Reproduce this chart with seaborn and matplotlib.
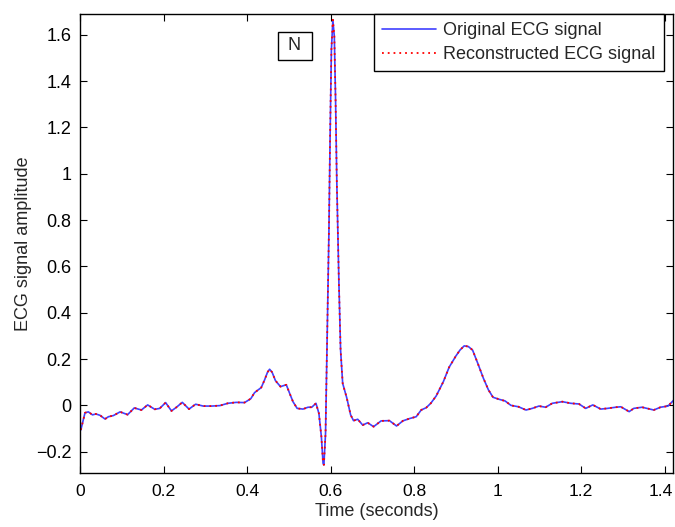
import matplotlib
matplotlib.use("Agg")
import matplotlib.pyplot as plt
import matplotlib.transforms as mtransforms
import seaborn as sns
import pandas as pd

time_s = [0.002, 0.012, 0.020, 0.030, 0.038, 0.048, 0.060, 0.068, 0.080, 0.096,
          0.114, 0.130, 0.147, 0.162, 0.179, 0.191, 0.205, 0.219, 0.231, 0.245,
          0.261, 0.277, 0.295, 0.315, 0.335, 0.354, 0.374, 0.394, 0.409, 0.418,
          0.434, 0.442, 0.449, 0.454, 0.460, 0.468, 0.480, 0.494, 0.502, 0.510,
          0.520, 0.534, 0.546, 0.555, 0.565, 0.572, 0.578, 0.582, 0.584, 0.588,
          0.592, 0.596, 0.599, 0.602, 0.6055, 0.609, 0.612, 0.615, 0.620, 0.624,
          0.629, 0.639, 0.648, 0.655, 0.665, 0.677, 0.689, 0.703, 0.721, 0.741,
          0.758, 0.773, 0.789, 0.805, 0.817, 0.829, 0.840, 0.853, 0.870, 0.884,
          0.900, 0.910, 0.920, 0.930, 0.940, 0.952, 0.966, 0.978, 0.989, 1.004,
          1.018, 1.032, 1.050, 1.068, 1.083, 1.099, 1.115, 1.131, 1.155, 1.175,
          1.195, 1.211, 1.228, 1.247, 1.263, 1.283, 1.295, 1.315, 1.326, 1.346,
          1.374, 1.390, 1.408, 1.422]
original = [-0.106, -0.032, -0.028, -0.041, -0.037, -0.043, -0.059, -0.049, -0.044, -0.028,
            -0.040, -0.011, -0.020, 0.002, -0.017, -0.013, 0.012, -0.024, -0.008, 0.013,
            -0.016, 0.005, -0.003, -0.003, -0.001, 0.009, 0.013, 0.012, 0.029, 0.055,
            0.077, 0.110, 0.143, 0.156, 0.143, 0.107, 0.081, 0.089, 0.052, 0.016,
            -0.013, -0.016, -0.008, -0.008, 0.009, -0.034, -0.135, -0.250, -0.257, -0.120,
            0.311, 0.743, 1.175, 1.535, 1.665, 1.593, 1.319, 0.959, 0.527, 0.239,
            0.095, 0.031, -0.041, -0.066, -0.060, -0.085, -0.075, -0.092, -0.067, -0.066,
            -0.089, -0.067, -0.057, -0.049, -0.020, -0.010, 0.009, 0.041, 0.102, 0.165,
            0.213, 0.239, 0.257, 0.254, 0.239, 0.184, 0.117, 0.067, 0.035, 0.026,
            0.019, 0.000, -0.006, -0.020, -0.013, -0.003, -0.008, 0.009, 0.016, 0.009,
            0.006, -0.013, 0.002, -0.016, -0.013, -0.008, -0.006, -0.027, -0.013, -0.008,
            -0.020, -0.008, -0.003, 0.023]
reconstructed = list(original)

x_ticks = [0, 0.2, 0.4, 0.6, 0.8, 1.0, 1.2, 1.4]
x_tick_labels = ["0", "0.2", "0.4", "0.6", "0.8", "1", "1.2", "1.4"]
y_ticks = [-0.2, 0, 0.2, 0.4, 0.6, 0.8, 1.0, 1.2, 1.4, 1.6]
y_tick_labels = ["\u22120.2", "0", "0.2", "0.4", "0.6", "0.8", "1", "1.2", "1.4", "1.6"]

sns.set_theme(style="ticks")
plt.rcParams["font.family"] = ["Liberation Sans", "DejaVu Sans"]
plt.rcParams["xtick.direction"] = "in"
plt.rcParams["ytick.direction"] = "in"

df_orig = pd.DataFrame({"t": time_s, "v": original})
df_rec = pd.DataFrame({"t": time_s, "v": reconstructed})

fig = plt.figure(figsize=(6.75, 5.27), dpi=100)
ax = fig.add_axes([80 / 675, 54 / 527, 593 / 675, 459 / 527])

sns.lineplot(data=df_orig, x="t", y="v", ax=ax, color="#4040ff", linewidth=1.2,
             sort=False, estimator=None, label="Original ECG signal")
sns.lineplot(data=df_rec, x="t", y="v", ax=ax, color="red", linewidth=1.3,
             linestyle=(0, (1, 2.2)), sort=False, estimator=None,
             label="Reconstructed ECG signal")

ax.set_xlim(0, 1.42)
ax.set_ylim(-0.292, 1.69)
ax.set_xticks(x_ticks)
ax.set_xticklabels(x_tick_labels)
ax.set_yticks(y_ticks)
ax.set_yticklabels(y_tick_labels)
ax.tick_params(axis="both", which="major", direction="in", length=5, width=0.8,
               labelsize=13, top=True, right=True, colors="black")
ax.tick_params(axis="x", pad=8, labelsize=12.6)
ax.tick_params(axis="y", pad=6)
# nudge the last x label so it stays inside the figure edge
last = ax.get_xticklabels()[-1]
last.set_transform(last.get_transform() +
                   mtransforms.ScaledTranslation(-4 / 100, 0, fig.dpi_scale_trans))
for s in ax.spines.values():
    s.set_visible(True)
    s.set_color("black")
    s.set_linewidth(1.0)

ax.set_xlabel("Time (seconds)", fontsize=13, labelpad=3)
ax.set_ylabel("ECG signal amplitude", fontsize=13, labelpad=3)

leg = ax.legend(loc="upper right", bbox_to_anchor=(584 / 593, 1.0), fontsize=13,
                frameon=True, fancybox=False, edgecolor="black", framealpha=1,
                borderaxespad=0.0, handlelength=3.0, handletextpad=0.4,
                borderpad=0.45, labelspacing=0.4)
leg.get_frame().set_linewidth(1.0)

ax.text(0.514, 1.553, " N ", fontsize=13, ha="center", va="center",
        bbox=dict(boxstyle="square,pad=0.3", facecolor="white",
                  edgecolor="black", linewidth=1.0))

fig.savefig("out.png", dpi=100)
